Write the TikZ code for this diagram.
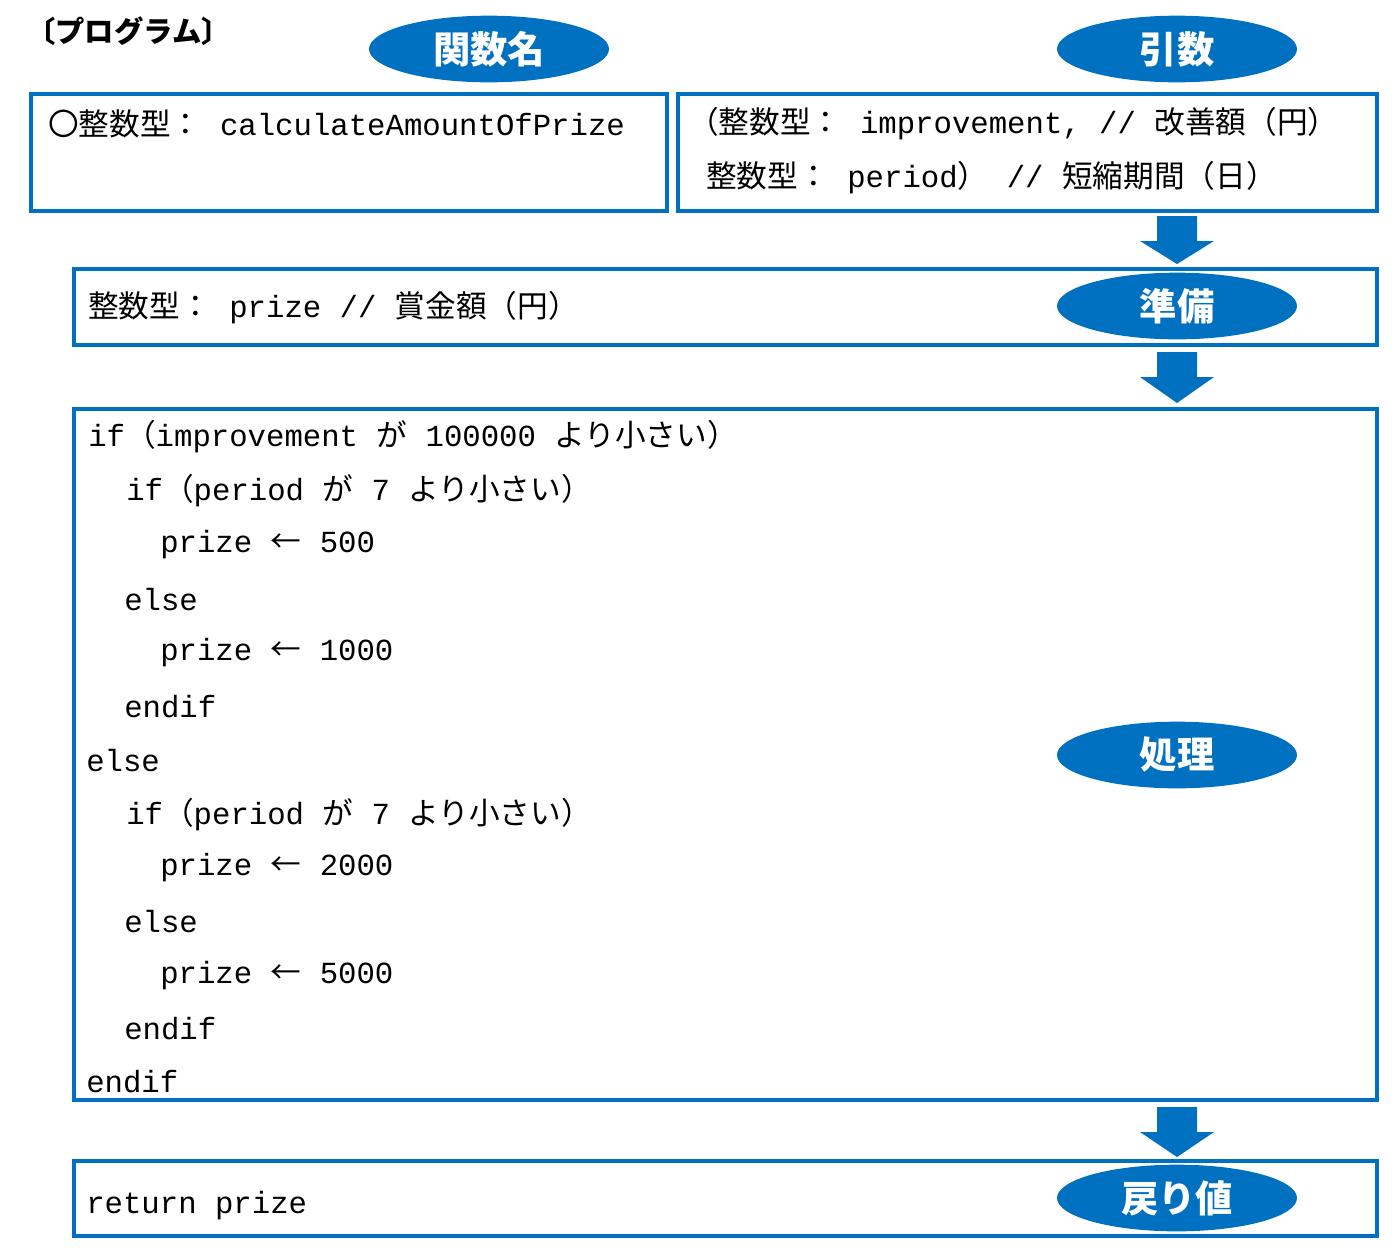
\documentclass[tikz,border=0pt]{standalone}
\usepackage{fontspec}
\setmainfont{Noto Sans CJK JP}
\newfontfamily\mono{Liberation Mono}
\usetikzlibrary{shapes.geometric}
\definecolor{bl}{HTML}{0070C0}
\newcommand{\m}[1]{{\mono #1}}
\begin{document}
\begin{tikzpicture}[x=0.75pt,y=-0.75pt,
  bx/.style={draw=bl,line width=3pt},
  tag/.style={ellipse,fill=bl,minimum width=180pt,minimum height=50pt,inner sep=0pt,text=white,font=\fontsize{28}{28}\selectfont\bfseries},
  tx/.style={anchor=west,inner sep=0pt,font=\fontsize{23}{23}\selectfont},
  barr/.style={fill=bl}]
\useasboundingbox (0,0) rectangle (1399,1247);
\node[anchor=west,inner sep=0pt,font=\fontsize{22}{22}\selectfont\bfseries] (title) at (26,31) {〔プログラム〕};
\draw[bx] (31,94) rectangle (667,211);
\draw[bx] (678,94) rectangle (1377,211);
\draw[bx] (74,269) rectangle (1377,345);
\draw[bx] (74,409) rectangle (1377,1100);
\draw[bx] (74,1161) rectangle (1377,1236);
\node[tag] (t1) at (489,49) {関数名};
\node[tag] (t2) at (1177,49) {引数};
\node[tag] (t3) at (1177,306) {準備};
\node[tag] (t4) at (1177,755) {処理};
\node[tag] (t5) at (1177,1198) {戻り値};
\foreach \a/\b in {216/264,352/403,1107/1157}{
  \fill[barr] (1157,\a) -- (1197,\a) -- (1197,\a+25) -- (1214,\a+25) -- (1177,\b) -- (1140,\a+25) -- (1157,\a+25) -- cycle;}
\node[tx] (f) at (48,124) {〇整数型：\m{ calculateAmountOfPrize}};
\node[tx] (a1) at (688,124) {（整数型：\m{ improvement, // }改善額（円）};
\node[tx] (a2) at (706,178) {整数型：\m{ period}）\m{ // }短縮期間（日）};
\node[tx] (p) at (88,308) {整数型：\m{ prize // }賞金額（円）};
\node[tx] (l1) at (88,437) {\m{if}（\m{improvement }が\m{ 100000 }より小さい）};
\node[tx] (l2) at (126,491) {\m{if}（\m{period }が\m{ 7 }より小さい）};
\node[tx] (l3) at (160,545) {\m{prize }←\m{ 500}};
\node[tx] (l4) at (124,600) {\m{else}};
\node[tx] (l5) at (160,653) {\m{prize }←\m{ 1000}};
\node[tx] (l6) at (124,707) {\m{endif}};
\node[tx] (l7) at (86,761) {\m{else}};
\node[tx] (l8) at (126,815) {\m{if}（\m{period }が\m{ 7 }より小さい）};
\node[tx] (l9) at (160,868) {\m{prize }←\m{ 2000}};
\node[tx] (l10) at (124,922) {\m{else}};
\node[tx] (l11) at (160,976) {\m{prize }←\m{ 5000}};
\node[tx] (l12) at (124,1029) {\m{endif}};
\node[tx] (l13) at (86,1082) {\m{endif}};
\node[tx] (r) at (86,1206) {\m{return prize}};
\end{tikzpicture}
\end{document}
